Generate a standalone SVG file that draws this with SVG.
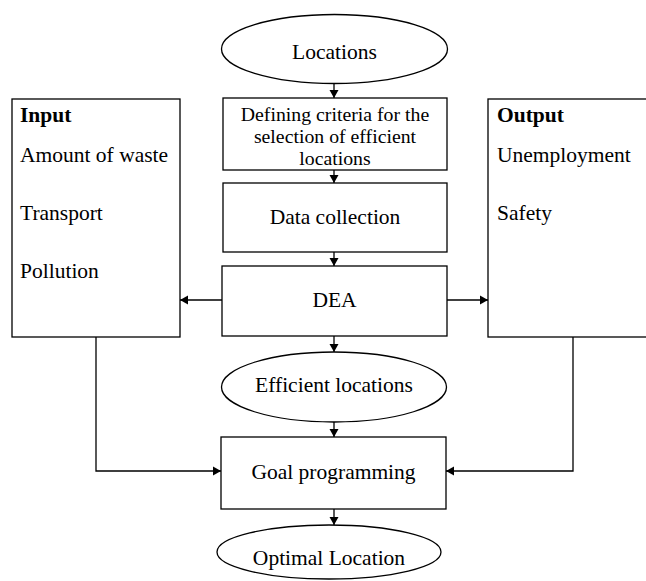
<svg xmlns="http://www.w3.org/2000/svg" width="646" height="581" viewBox="0 0 646 581">
<defs>
<style>
.s{fill:#fff;stroke:#000;stroke-width:1.3}
.t{font-family:"Liberation Serif","Times New Roman",serif;font-size:21.5px;fill:#000}
.m{font-size:19.8px}
.c{text-anchor:middle}
.b{font-weight:bold}
.e{fill:none;stroke:#000;stroke-width:1.3}
</style>
<marker id="ah" markerUnits="userSpaceOnUse" markerWidth="9" markerHeight="10" refX="8" refY="5" orient="auto">
<path d="M0,0.5 L8,5 L0,9.5 z" fill="#000"/>
</marker>
</defs>
<rect width="646" height="581" fill="#fff"/>
<g id="connectors">
<line class="e" x1="334" y1="84" x2="334" y2="98" marker-end="url(#ah)"/>
<line class="e" x1="334" y1="170" x2="334" y2="183" marker-end="url(#ah)"/>
<line class="e" x1="334" y1="252" x2="334" y2="266" marker-end="url(#ah)"/>
<line class="e" x1="334" y1="336" x2="334" y2="352" marker-end="url(#ah)"/>
<line class="e" x1="334" y1="422" x2="334" y2="437" marker-end="url(#ah)"/>
<line class="e" x1="334" y1="509" x2="334" y2="525" marker-end="url(#ah)"/>
<line class="e" x1="222" y1="300" x2="180" y2="300" marker-end="url(#ah)"/>
<line class="e" x1="447" y1="300" x2="488" y2="300" marker-end="url(#ah)"/>
<polyline class="e" points="96,337 96,471 221,471" marker-end="url(#ah)"/>
<polyline class="e" points="573,337 573,471 446,471" marker-end="url(#ah)"/>
</g>
<g id="locations">
<ellipse class="s" cx="334.5" cy="49" rx="113" ry="34.5"/>
<text class="t c" x="334.5" y="59">Locations</text>
</g>
<g id="criteria">
<rect class="s" x="223" y="98" width="224" height="72"/>
<text class="t m c" x="335" y="120.5">Defining criteria for the</text>
<text class="t m c" x="335" y="142.5">selection of efficient</text>
<text class="t m c" x="335" y="164.5">locations</text>
</g>
<g id="data">
<rect class="s" x="223" y="183" width="224" height="69"/>
<text class="t c" x="335" y="224">Data collection</text>
</g>
<g id="dea">
<rect class="s" x="222" y="266" width="225" height="70"/>
<text class="t c" x="334.5" y="307">DEA</text>
</g>
<g id="input">
<rect class="s" x="12" y="99" width="168" height="238"/>
<text class="t b" x="20" y="122">Input</text>
<text class="t" x="20" y="162">Amount of waste</text>
<text class="t" x="20" y="220">Transport</text>
<text class="t" x="20" y="278">Pollution</text>
</g>
<g id="output">
<rect class="s" x="488" y="99" width="170" height="238"/>
<text class="t b" x="497" y="122">Output</text>
<text class="t" x="497" y="162">Unemployment</text>
<text class="t" x="497" y="220">Safety</text>
</g>
<g id="efficient">
<ellipse class="s" cx="334" cy="387" rx="112.5" ry="35"/>
<text class="t c" x="334" y="392">Efficient locations</text>
</g>
<g id="goal">
<rect class="s" x="221" y="437" width="225" height="72"/>
<text class="t c" x="333.5" y="479">Goal programming</text>
</g>
<g id="optimal">
<ellipse class="s" cx="329" cy="552" rx="112" ry="27"/>
<text class="t c" x="329" y="565">Optimal Location</text>
</g>
</svg>
